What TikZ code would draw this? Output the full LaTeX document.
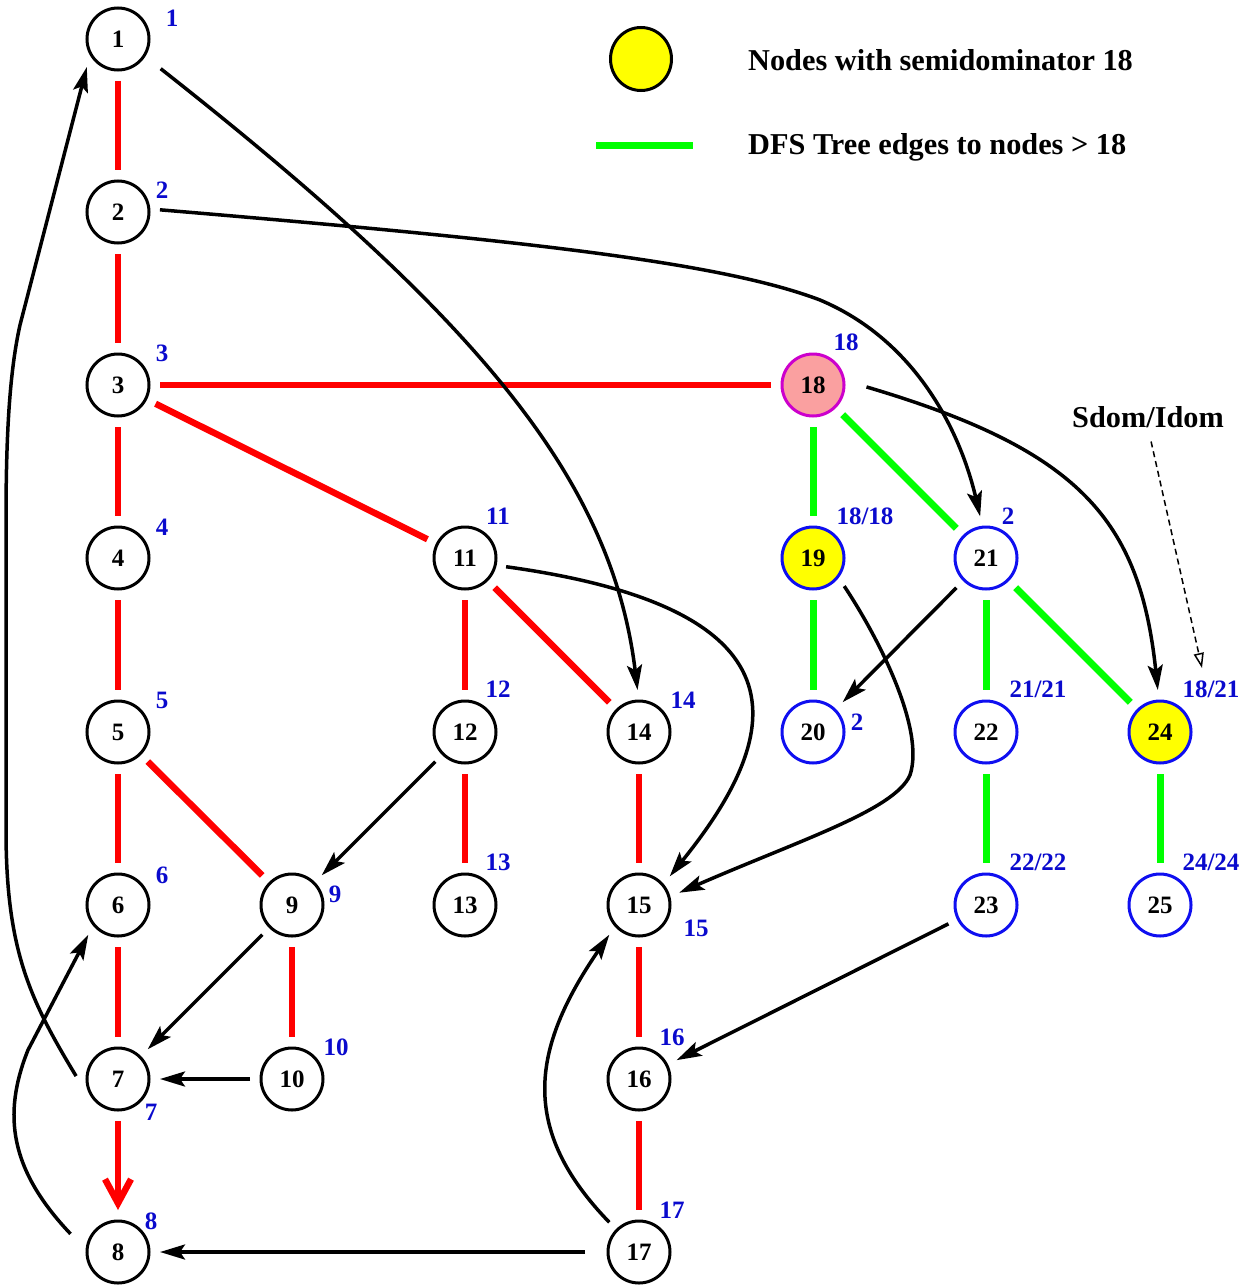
\documentclass[tikz,border=0pt]{standalone}
\usepackage{fontspec}
\setmainfont{Liberation Serif}
\usetikzlibrary{arrows.meta,shapes.geometric}
\definecolor{lblue}{RGB}{10,10,205}
\definecolor{vblue}{RGB}{15,15,240}
\definecolor{treered}{RGB}{255,0,0}
\definecolor{treegreen}{RGB}{0,255,0}
\definecolor{rootpink}{RGB}{250,160,160}
\definecolor{rootmag}{RGB}{204,0,204}
\definecolor{semiyellow}{RGB}{255,255,0}
\newcommand\nodefnt{\fontsize{25}{25}\selectfont\bfseries}
\newcommand\labfnt{\fontsize{25}{25}\selectfont\bfseries}
\newcommand\legfnt{\fontsize{30.3}{30}\selectfont\bfseries}
\begin{document}
\begin{tikzpicture}[x=1pt,y=-1pt,
  vtx/.style={circle,draw=black,line width=3pt,minimum size=62pt,inner sep=0pt,outer sep=11pt,font=\nodefnt},
  bvtx/.style={vtx,draw=vblue},
  lbl/.style={text=lblue,font=\labfnt,inner sep=0pt},
  redtree/.style={draw=treered,line width=6.5pt},
  greentree/.style={draw=treegreen,line width=7pt},
  arr/.style={line width=3.5pt,-{Stealth[length=25pt,width=15pt,inset=5pt]}},
  legtext/.style={font=\legfnt,inner sep=0pt,anchor=west}]
\useasboundingbox (0,0) rectangle (1246,1287);

% ---- vertices ----
\node[vtx] (n1) at (118,39) {1};
\node[vtx] (n2) at (118,212) {2};
\node[vtx] (n3) at (118,385) {3};
\node[vtx] (n4) at (118,558) {4};
\node[vtx] (n5) at (118,732) {5};
\node[vtx] (n6) at (118,905) {6};
\node[vtx] (n7) at (118,1079) {7};
\node[vtx] (n8) at (118,1252) {8};
\node[vtx] (n9) at (292,905) {9};
\node[vtx] (n10) at (292,1079) {10};
\node[vtx] (n11) at (465,558) {11};
\node[vtx] (n12) at (465,732) {12};
\node[vtx] (n13) at (465,905) {13};
\node[vtx] (n14) at (639,732) {14};
\node[vtx] (n15) at (639,905) {15};
\node[vtx] (n16) at (639,1079) {16};
\node[vtx] (n17) at (639,1252) {17};
\node[vtx,draw=rootmag,fill=rootpink] (n18) at (813,385) {18};
\node[bvtx,fill=semiyellow] (n19) at (813,558) {19};
\node[bvtx] (n20) at (813,732) {20};
\node[bvtx] (n21) at (986,558) {21};
\node[bvtx] (n22) at (986,732) {22};
\node[bvtx] (n23) at (986,905) {23};
\node[bvtx,fill=semiyellow] (n24) at (1160,732) {24};
\node[bvtx] (n25) at (1160,905) {25};

% ---- numbering labels ----
\node[lbl] (l1) at (172,18) {1};
\node[lbl] (l2) at (162,190) {2};
\node[lbl] (l3) at (162,353) {3};
\node[lbl] (l4) at (162,527) {4};
\node[lbl] (l5) at (162,700) {5};
\node[lbl] (l6) at (162,875) {6};
\node[lbl] (l7) at (151,1112) {7};
\node[lbl] (l8) at (151,1221) {8};
\node[lbl] (l9) at (335,894) {9};
\node[lbl] (l10) at (336,1047) {10};
\node[lbl] (l11) at (498,516) {11};
\node[lbl] (l12) at (498,689) {12};
\node[lbl] (l13) at (498,862) {13};
\node[lbl] (l14) at (683,700) {14};
\node[lbl] (l15) at (696,928) {15};
\node[lbl] (l16) at (672,1037) {16};
\node[lbl] (l17) at (672,1210) {17};
\node[lbl] (l18) at (846,342) {18};
\node[lbl] (l19) at (865,516) {18/18};
\node[lbl] (l20) at (857,722) {2};
\node[lbl] (l21) at (1008,516) {2};
\node[lbl] (l22) at (1038,689) {21/21};
\node[lbl] (l23) at (1038,862) {22/22};
\node[lbl] (l24) at (1211,689) {18/21};
\node[lbl] (l25) at (1211,862) {24/24};

% ---- legend ----
\node[ellipse,draw=black,line width=3pt,fill=semiyellow,minimum width=61pt,minimum height=63pt,inner sep=0pt] (legnode) at (641,59) {};
\node[legtext] (legnodetext) at (748,60) {Nodes with semidominator 18};
\coordinate (legA) at (596,145);
\coordinate (legB) at (693,145);
\draw[greentree] (legA) -- (legB);
\node[legtext] (legedgetext) at (748,147) {DFS Tree edges to nodes > 18};
\node[font=\legfnt,inner sep=0pt] (sdom) at (1148,417) {Sdom/Idom};
\coordinate (sdomtip) at (1202,668);
\draw[dash pattern=on 6pt off 4pt,line width=1.5pt,shorten <=14pt,-{Triangle[open,length=15pt,width=10pt]}] (sdom.south) -- (sdomtip);

% ---- DFS tree edges ----
\draw[redtree] (n1) -- (n2);
\draw[redtree] (n2) -- (n3);
\draw[redtree] (n3) -- (n4);
\draw[redtree] (n4) -- (n5);
\draw[redtree] (n5) -- (n6);
\draw[redtree] (n6) -- (n7);
\draw[redtree] (n3) -- (n18);
\draw[redtree] (n3) -- (n11);
\draw[redtree] (n5) -- (n9);
\draw[redtree] (n9) -- (n10);
\draw[redtree] (n11) -- (n12);
\draw[redtree] (n11) -- (n14);
\draw[redtree] (n12) -- (n13);
\draw[redtree] (n14) -- (n15);
\draw[redtree] (n15) -- (n16);
\draw[redtree] (n16) -- (n17);
\draw[redtree,-{Straight Barb[length=24pt,width=26pt]}] (n7) -- (n8);

\draw[greentree] (n18) -- (n19);
\draw[greentree] (n18) -- (n21);
\draw[greentree] (n19) -- (n20);
\draw[greentree] (n21) -- (n22);
\draw[greentree] (n21) -- (n24);
\draw[greentree] (n22) -- (n23);
\draw[greentree] (n24) -- (n25);

% ---- non-tree edges ----
\draw[arr] (n7.176) .. controls (30,1000) and (6,950) .. (6,830) -- (6,520)
   .. controls (6,430) and (10,370) .. (20,325) -- (n1.222);
\draw[arr,shorten <=10pt] (n8.165) .. controls (10,1170) and (2,1115) .. (28,1050) -- (n6.225);
\draw[arr,shorten <=10pt] (n1.326) .. controls (480,320) and (612,480) .. (n14.92);
\draw[arr] (n2.3) .. controls (520,240) and (720,262) .. (820,300)
   .. controls (915,340) and (960,430) .. (n21.98);
\draw[arr,shorten <=12pt] (n18.2) .. controls (1080,450) and (1140,520) .. (n24.93);
\draw[arr] (n11.348) .. controls (820,610) and (780,740) .. (n15.43);
\draw[arr] (n19.318) .. controls (880,640) and (925,730) .. (910,775)
   .. controls (895,810) and (800,840) .. (n15.17);
\draw[arr] (n17.135) .. controls (520,1130) and (530,1050) .. (n15.225);
\draw[arr] (n21) -- (n20);
\draw[arr] (n12) -- (n9);
\draw[arr] (n9) -- (n7);
\draw[arr] (n10) -- (n7);
\draw[arr] (n23) -- (n16);
\draw[arr,shorten <=12pt] (n17) -- (n8);
\end{tikzpicture}
\end{document}
